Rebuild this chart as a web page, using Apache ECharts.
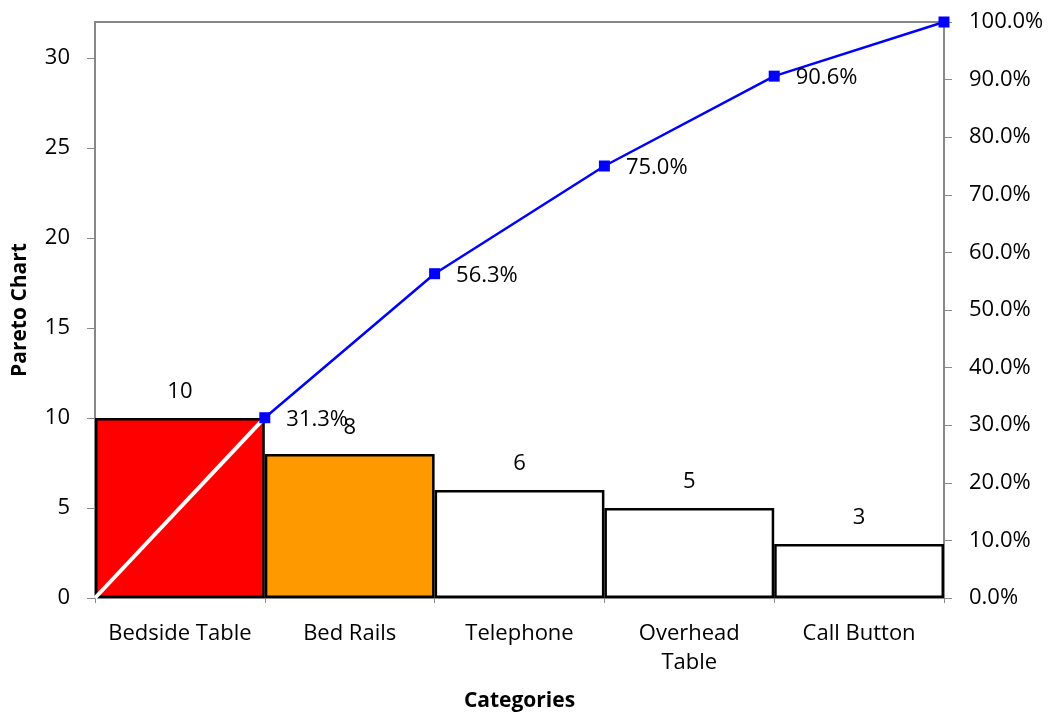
<!DOCTYPE html>
<html>
<head>
<meta charset="utf-8">
<script src="https://cdn.jsdelivr.net/npm/echarts@6/dist/echarts.min.js"></script>
<style>html,body{margin:0;padding:0;background:#fff}#c{width:1050px;height:717px}</style>
</head>
<body>
<div id="c"></div>
<script>
var categories = ['Bedside Table', 'Bed Rails', 'Telephone', 'Overhead\nTable', 'Call Button'];
var counts = [10, 8, 6, 5, 3];
var barColors = ['#ff0000', '#ff9900', '#ffffff', '#ffffff', '#ffffff'];
var cumPct = [0, 31.3, 56.3, 75.0, 90.6, 100.0];
var leftTicksMax = 32;

var FONT = 'Open Sans';
var FS = 22;
var chart = echarts.init(document.getElementById('c'));

var whiteSeg = [[0, cumPct[0]], [1, cumPct[1]]];
var blueLine = [];
for (var i = 1; i < cumPct.length; i++) blueLine.push([i, cumPct[i]]);

chart.setOption({
  animation: false,
  textStyle: { fontFamily: FONT, color: '#000' },
  grid: { left: 95, right: 106, top: 22, bottom: 119, show: true, borderColor: '#888', borderWidth: 2,
          containLabel: false, outerBoundsMode: 'none' },
  xAxis: [
    {
      type: 'category', data: categories,
      axisLine: { lineStyle: { color: '#888', width: 2 } },
      axisTick: { show: true, length: 5, lineStyle: { color: '#888' } },
      axisLabel: { interval: 0, fontSize: FS, color: '#000', margin: 21, lineHeight: 29, fontFamily: FONT },
      name: 'Categories', nameLocation: 'middle', nameGap: 93,
      nameTextStyle: { fontSize: 21, fontWeight: 'bold', color: '#000', fontFamily: FONT }
    },
    { type: 'value', min: 0, max: 5, show: false }
  ],
  yAxis: [
    {
      type: 'value', min: 0, max: leftTicksMax, interval: 5,
      splitLine: { show: false },
      axisLine: { show: true, lineStyle: { color: '#888', width: 2 } },
      axisTick: { show: true, length: 8, lineStyle: { color: '#888' } },
      axisLabel: { fontSize: FS, color: '#000', margin: 25, showMaxLabel: false, fontFamily: FONT },
      name: 'Pareto Chart', nameLocation: 'middle', nameGap: 64,
      nameTextStyle: { fontSize: 21, fontWeight: 'bold', color: '#000', fontFamily: FONT }
    },
    {
      type: 'value', min: 0, max: 100, interval: 10, position: 'right',
      splitLine: { show: false },
      axisLine: { show: true, lineStyle: { color: '#888', width: 2 } },
      axisTick: { show: true, length: 8, lineStyle: { color: '#888' } },
      axisLabel: { fontSize: FS, color: '#000', margin: 25, fontFamily: FONT,
        formatter: function (v) { return v.toFixed(1) + '%'; } }
    }
  ],
  series: [
    {
      type: 'bar', xAxisIndex: 0, yAxisIndex: 0, barCategoryGap: 0, barGap: 0,
      data: counts.map(function (v, i) {
        return { value: v, itemStyle: { color: barColors[i] } };
      }),
      itemStyle: { borderColor: '#000', borderWidth: 2.5 },
      label: { show: true, position: 'top', distance: 15, fontSize: FS, color: '#000', fontFamily: FONT },
      z: 2
    },
    {
      type: 'line', xAxisIndex: 1, yAxisIndex: 1, data: whiteSeg,
      showSymbol: false, symbol: 'none',
      lineStyle: { color: '#ffffff', width: 4 }, z: 3
    },
    {
      type: 'line', xAxisIndex: 1, yAxisIndex: 1, data: blueLine,
      symbol: 'rect', symbolSize: 11,
      itemStyle: { color: '#0000ff' },
      lineStyle: { color: '#0000ff', width: 2.5 },
      label: {
        show: true, position: 'right', distance: 16, fontSize: FS, color: '#000', fontFamily: FONT,
        offset: [0, 2],
        formatter: function (p) { return p.dataIndex === blueLine.length - 1 ? '' : p.value[1].toFixed(1) + '%'; }
      },
      z: 4
    }
  ]
});
</script>
</body>
</html>
